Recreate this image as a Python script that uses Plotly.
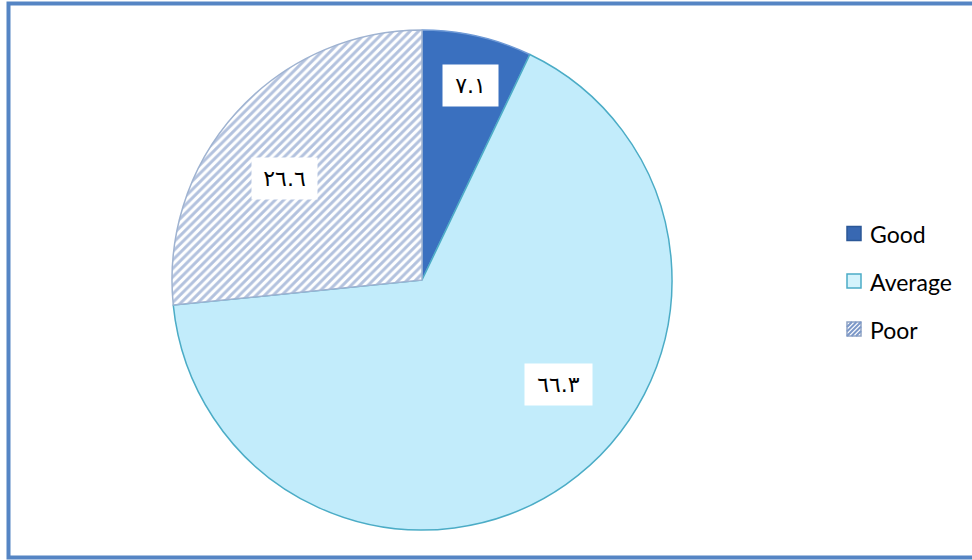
import math
import plotly.graph_objects as go

categories = ["Good", "Average", "Poor"]
values = [7.1, 66.3, 26.6]
slice_colors = ["#3A70BF", "#C2ECFB", "#FFFFFF"]
line_colors = ["#6F9AD6", "#4BACC6", "#9FB3D1"]
label_radius = [0.802, 0.688, 0.684]
label_shift_deg = [1.2, -17.5, -5.7]
label_box_width = [55, 67, 65]

legend_fill = ["#3868B2", "#D4F3FC", "#FFFFFF"]
legend_border = ["#2B5797", "#4BACC6", "#8FA3C4"]


def to_arabic(v):
    digits = "٠١٢٣٤٥٦٧٨٩"
    return "".join(digits[int(c)] if c.isdigit() else c for c in f"{v:.1f}")


W, H = 972, 560
cx, cy, R = 422, 280, 250


def px_x(x):
    return x / W


def px_y(y):
    return 1 - y / H


fig = go.Figure()
fig.add_trace(go.Pie(
    labels=categories,
    values=values,
    sort=False,
    direction="clockwise",
    rotation=0,
    textinfo="none",
    hoverinfo="label+value",
    showlegend=False,
    marker=dict(
        colors=slice_colors,
        line=dict(color=line_colors, width=1.5),
        pattern=dict(shape=["", "", "/"], fgcolor="#6886BE", bgcolor="#FFFFFF",
                     size=6, solidity=0.5, fillmode="overlay"),
    ),
    domain=dict(x=[(cx - R) / W, (cx + R) / W], y=[(H - cy - R) / H, (H - cy + R) / H]),
))

# value labels (white boxes) placed from the slice angles
total = sum(values)
cum = 0
for v, rf, sh, bw in zip(values, label_radius, label_shift_deg, label_box_width):
    mid = (cum + v / 2) / total * 360 + sh
    cum += v
    a = math.radians(mid)
    px = cx + rf * R * math.sin(a)
    py = cy - rf * R * math.cos(a)
    fig.add_annotation(
        x=px_x(px), y=px_y(py), xref="paper", yref="paper",
        xanchor="center", yanchor="middle",
        text=to_arabic(v), showarrow=False,
        font=dict(family="DejaVu Sans", size=22, color="#000000"),
        bgcolor="#FFFFFF", borderpad=0, width=bw, height=41, align="center",
        valign="middle",
    )

# legend drawn manually (Excel-style spacing)
leg_x0, leg_size, leg_text_x = 847, 14, 868
leg_centers = [233.5, 281, 329]
for name, yc, fc, bc in zip(categories, leg_centers, legend_fill, legend_border):
    y0, y1 = yc - leg_size / 2, yc + leg_size / 2
    fig.add_shape(type="rect", xref="paper", yref="paper",
                  x0=px_x(leg_x0), x1=px_x(leg_x0 + leg_size), y0=px_y(y1), y1=px_y(y0),
                  fillcolor=fc, line=dict(color=bc, width=1.5))
    if name == "Poor":
        s = leg_size
        for c in [-9, -4.5, 0, 4.5, 9]:
            if c >= 0:
                u0, v0, u1, v1 = c, 0, s, s - c
            else:
                u0, v0, u1, v1 = 0, -c, s + c, s
            fig.add_shape(type="line", xref="paper", yref="paper",
                          x0=px_x(leg_x0 + u0), y0=px_y(y1 - v0),
                          x1=px_x(leg_x0 + u1), y1=px_y(y1 - v1),
                          line=dict(color="#7C98C8", width=2))
    fig.add_annotation(x=px_x(leg_text_x), y=px_y(yc + 0.5), xref="paper", yref="paper",
                       xanchor="left", yanchor="middle", text=name, showarrow=False,
                       font=dict(family="Lato", size=23, color="#000000"))

# outer frame
fig.add_shape(type="rect", xref="paper", yref="paper",
              x0=px_x(8.5), x1=px_x(W + 10), y0=px_y(557.5), y1=px_y(3.5),
              line=dict(color="#5585C4", width=4), fillcolor="rgba(0,0,0,0)")

fig.update_layout(
    width=W, height=H,
    margin=dict(l=0, r=0, t=0, b=0),
    paper_bgcolor="#FFFFFF",
    plot_bgcolor="#FFFFFF",
    showlegend=False,
)

fig.write_html("out.html", config={"displayModeBar": False},
               post_script="document.body.style.margin='0';document.body.style.overflow='hidden';")
